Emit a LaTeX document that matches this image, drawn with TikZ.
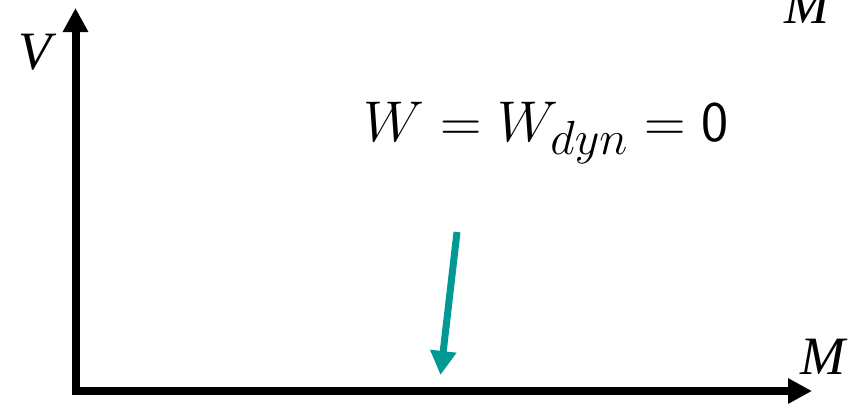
\documentclass[tikz,border=0pt]{standalone}
\usepackage{amsmath,amssymb}
\usepackage{fontspec}
\newfontfamily\timesfont{Liberation Serif}
\usepackage{tikz}
\usetikzlibrary{arrows.meta,positioning}
\definecolor{tealarrow}{RGB}{0,153,148}

\begin{document}
\begin{tikzpicture}[x=0.5pt,y=0.5pt,
  axis/.style={line width=4pt,-{Triangle[length=12pt,width=12pt]}},
  axislabel/.style={inner sep=0pt,font=\fontsize{27}{32}\selectfont\timesfont\itshape},
  pointer/.style={line width=3.5pt,color=tealarrow,-{Triangle[length=12pt,width=12.5pt]}}]
  \useasboundingbox (0,0) rectangle (852,404);
  % axes
  \coordinate (origin) at (75.5,13);
  \coordinate (vtop) at (75.5,396);
  \coordinate (mright) at (812,13);
  \draw[axis] (origin) -- (vtop);
  \draw[axis] ([xshift=-2pt]origin) -- (mright);
  \node[axislabel] (vlabel) at (35,352) {V};
  \node[axislabel] (mlabel) at (823,47) {M};
  \node[axislabel] (mtop) at (807,398.5) {M};
  % condition
  \node[inner sep=0pt,anchor=base,scale=1.155,font=\fontsize{24.88}{30}\selectfont] (cond) at (546,263)
    {$W = W_{dyn} = \mathsf{0}$};
  \coordinate (pstart) at (457,172);
  \coordinate (pend) at (440.5,29);
  \draw[pointer] (pstart) -- (pend);
\end{tikzpicture}
\end{document}
